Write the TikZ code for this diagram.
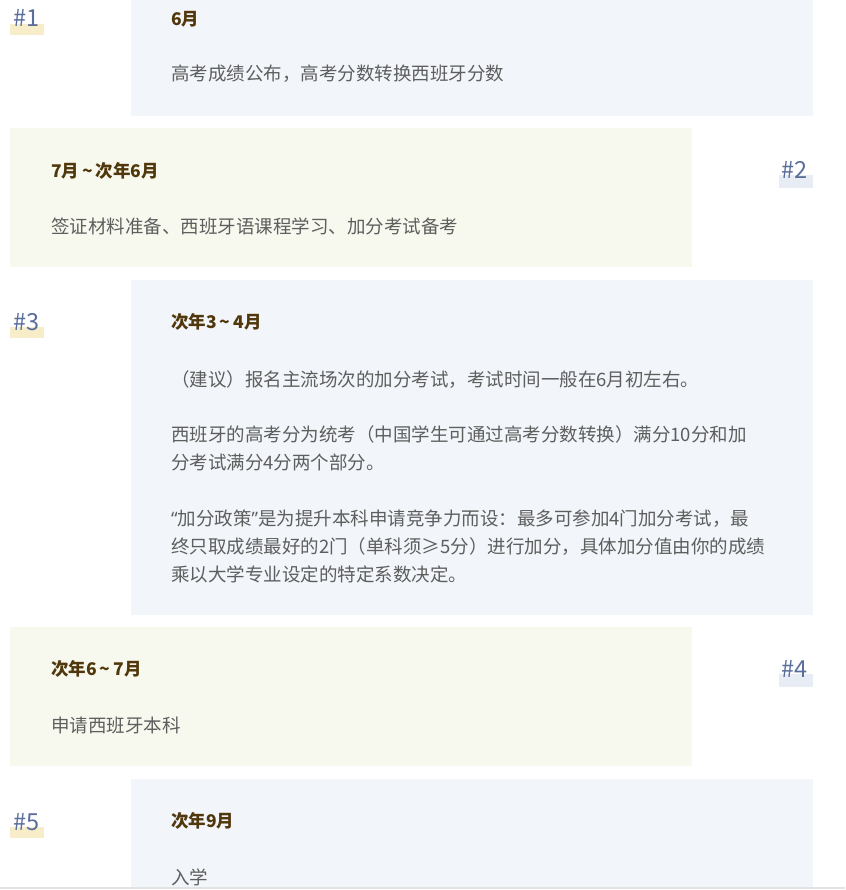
\documentclass[tikz,border=0pt]{standalone}
\usepackage{fontspec}
\setmainfont{Noto Sans CJK SC}
\newfontfamily\latinq{Open Sans}
\definecolor{boxA}{HTML}{F2F5F9}
\definecolor{boxB}{HTML}{F8F9EE}
\definecolor{ttl}{HTML}{50380C}
\definecolor{bodyc}{HTML}{5E5E5E}
\definecolor{lblc}{HTML}{5A6E9C}
\definecolor{hlA}{HTML}{F7EDC9}
\definecolor{hlB}{HTML}{E8EDF5}
\definecolor{edgeline}{HTML}{E2E2E2}
\tikzset{
  boxblue/.style={fill=boxA},
  boxbeige/.style={fill=boxB},
  ttltext/.style={anchor=base west, inner sep=0pt, text=ttl, font=\fontsize{17.5pt}{20pt}\selectfont\bfseries},
  bodytext/.style={anchor=base west, inner sep=0pt, text=bodyc, font=\fontsize{18.5pt}{22pt}\selectfont},
  numtext/.style={anchor=base west, inner sep=0pt, text=lblc, font=\fontsize{23.5pt}{26pt}\selectfont},
  hlyellow/.style={fill=hlA},
  hlblue/.style={fill=hlB}
}
\begin{document}
\begin{tikzpicture}[x=1pt,y=-1pt]
\useasboundingbox (0,0) rectangle (845,890);
\clip (0,0) rectangle (845,890);
\fill[white] (0,0) rectangle (845,890);
% boxes
\fill[boxblue] (131,-30) rectangle (813,116);
\fill[boxbeige] (10,128) rectangle (692,267);
\fill[boxblue] (131,280) rectangle (813,615);
\fill[boxbeige] (10,627) rectangle (692,766);
\fill[boxblue] (131,779) rectangle (813,887);
\fill[edgeline] (0,886.5) rectangle (845,888.5);
% number highlights
\fill[hlyellow] (10,24) rectangle (44,35);
\fill[hlblue] (779,175) rectangle (813,188);
\fill[hlyellow] (10,327) rectangle (44,338);
\fill[hlblue] (779,674) rectangle (813,687);
\fill[hlyellow] (10,827) rectangle (44,838);
% numbers
\node[numtext] (n1) at (13,26.5) {\#1};
\node[numtext] (n2) at (781,178.5) {\#2};
\node[numtext] (n3) at (13,330.5) {\#3};
\node[numtext] (n4) at (781,677.5) {\#4};
\node[numtext] (n5) at (13,830.5) {\#5};
% box 1
\node[ttltext] (t1) at (171,26) {6月};
\node[bodytext] (b1) at (171,81) {高考成绩公布，高考分数转换西班牙分数};
% box 2
\node[ttltext] (t2) at (51,177.5) {7月\,\textasciitilde\,次年6月};
\node[bodytext] (b2) at (51,234) {签证材料准备、西班牙语课程学习、加分考试备考};
% box 3
\node[ttltext] (t3) at (171,328.5) {次年3\,\textasciitilde\,4月};
\node[bodytext] (b3a) at (171,386) {（建议）报名主流场次的加分考试，考试时间一般在6月初左右。};
\node[bodytext] (b3b) at (171,441) {西班牙的高考分为统考（中国学生可通过高考分数转换）满分10分和加};
\node[bodytext] (b3c) at (171,469) {分考试满分4分两个部分。};
\node[bodytext] (b3d) at (171,525) {{\latinq “}加分政策{\latinq ”}是为提升本科申请竞争力而设：最多可参加4门加分考试，最};
\node[bodytext] (b3e) at (171,553) {终只取成绩最好的2门（单科须≥5分）进行加分，具体加分值由你的成绩};
\node[bodytext] (b3f) at (171,581) {乘以大学专业设定的特定系数决定。};
% box 4
\node[ttltext] (t4) at (51,675.5) {次年6\,\textasciitilde\,7月};
\node[bodytext] (b4) at (51,732) {申请西班牙本科};
% box 5
\node[ttltext] (t5) at (171,827.5) {次年9月};
\node[bodytext] (b5) at (171,884) {入学};
\end{tikzpicture}
\end{document}
